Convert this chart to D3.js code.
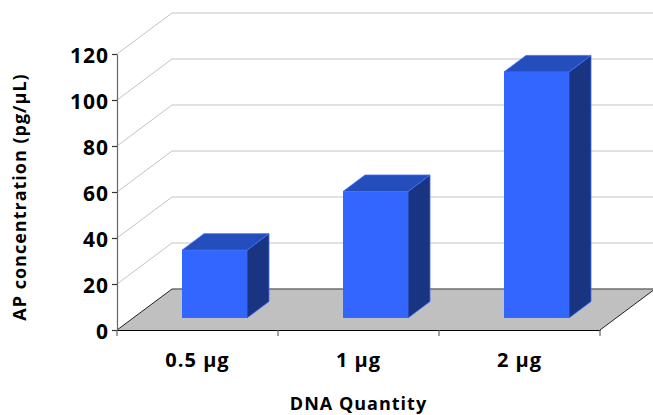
<!DOCTYPE html>
<html><head><meta charset="utf-8">
<script src="https://cdnjs.cloudflare.com/ajax/libs/d3/7.8.5/d3.min.js"></script>
<style>html,body{margin:0;background:#fff}svg{display:block}text{font-family:"Open Sans",sans-serif;font-weight:700;fill:#000}</style>
</head><body><div id="c"></div>
<script>
const categories = ["0.5 µg","1 µg","2 µg"];
const values = [29.5,55,107];
const yTicks = [0,20,40,60,80,100,120];
const xTitle = "DNA Quantity";
const yTitle = "AP concentration (pg/µL)";

const W=653,H=415;
const svg=d3.select("#c").append("svg").attr("width",W).attr("height",H);
const x=d3.scaleBand().domain(categories).range([117,600]);
const y=d3.scaleLinear().domain([0,120]).range([330,54]);
const wallDx=55,wallDy=-41,barDx=22,barDy=-16.5,offDx=17,offDy=-12,barW=65;

yTicks.filter(t=>t>0).forEach(t=>{
  svg.append("path").attr("fill","none").attr("stroke","#c4c4c4").attr("stroke-width",1)
    .attr("d",d3.line()([[117,y(t)],[117+wallDx,y(t)+wallDy],[600+wallDx,y(t)+wallDy]]));
});
svg.append("path").attr("fill","#c0c0c0")
  .attr("d",d3.line()([[117,y(0)],[117+wallDx,y(0)+wallDy],[600+wallDx,y(0)+wallDy],[600,y(0)]])+"Z");
svg.append("path").attr("fill","none").attr("stroke","#6e6e6e").attr("stroke-width",1.4)
  .attr("d",d3.line()([[117+wallDx,y(0)+wallDy],[600+wallDx-1,y(0)+wallDy]]));
svg.append("path").attr("fill","none").attr("stroke","#222").attr("stroke-width",1)
  .attr("d",d3.line()([[117,y(0)],[117+wallDx,y(0)+wallDy]]));
svg.append("path").attr("fill","none").attr("stroke","#222").attr("stroke-width",1)
  .attr("d",d3.line()([[600,y(0)],[600+wallDx,y(0)+wallDy]]));

const gy=svg.append("g").attr("transform","translate(117,0)").call(d3.axisLeft(y).tickValues(yTicks).tickSize(5).tickSizeOuter(0).tickPadding(3));
gy.selectAll("text").style("font-size","21px").attr("letter-spacing","1").attr("y",2);
gy.selectAll("line,path").attr("stroke","#666").attr("stroke-width",1.2);
gy.selectAll("line").attr("stroke","#333");
const gx=svg.append("g").attr("transform","translate(0,330)").call(d3.axisBottom(x).tickSize(0).tickSizeOuter(0).tickPadding(23));
gx.select("path").attr("stroke","#000").attr("stroke-width",1.2);
gx.selectAll("text").style("font-size","20px").attr("letter-spacing","1");
[117,...categories.map(c=>x(c)+x.bandwidth())].forEach(px=>{
  svg.append("line").attr("x1",px).attr("x2",px).attr("y1",330).attr("y2",336).attr("stroke","#666").attr("stroke-width",1.2);
});

const bars=svg.selectAll("g.bar").data(categories.map((c,i)=>({c,v:values[i]}))).join("g").attr("class","bar");
const stroke="#3f6bff";
bars.each(function(d){
  const g=d3.select(this);
  const l=x(d.c)+(x.bandwidth()-barW)/2+offDx,r=l+barW,b=y(0)+offDy,t=b-(y(0)-y(d.v));
  const line=d3.line();
  g.append("path").attr("fill","#193480").attr("stroke",stroke).attr("stroke-width",.8)
    .attr("d",line([[r,t],[r+barDx,t+barDy],[r+barDx,b+barDy],[r,b]])+"Z");
  g.append("path").attr("fill","#254ebd").attr("stroke",stroke).attr("stroke-width",.8)
    .attr("d",line([[l,t],[l+barDx,t+barDy],[r+barDx,t+barDy],[r,t]])+"Z");
  g.append("rect").attr("x",l).attr("y",t).attr("width",barW).attr("height",b-t).attr("fill","#3366ff");
});

svg.append("text").attr("x",358.5).attr("y",410).attr("text-anchor","middle").style("font-size","18px").attr("letter-spacing","1").text(xTitle);
svg.append("text").attr("transform","translate(26,197) rotate(-90)").attr("text-anchor","middle").style("font-size","18px").attr("letter-spacing","1").text(yTitle);
</script></body></html>
